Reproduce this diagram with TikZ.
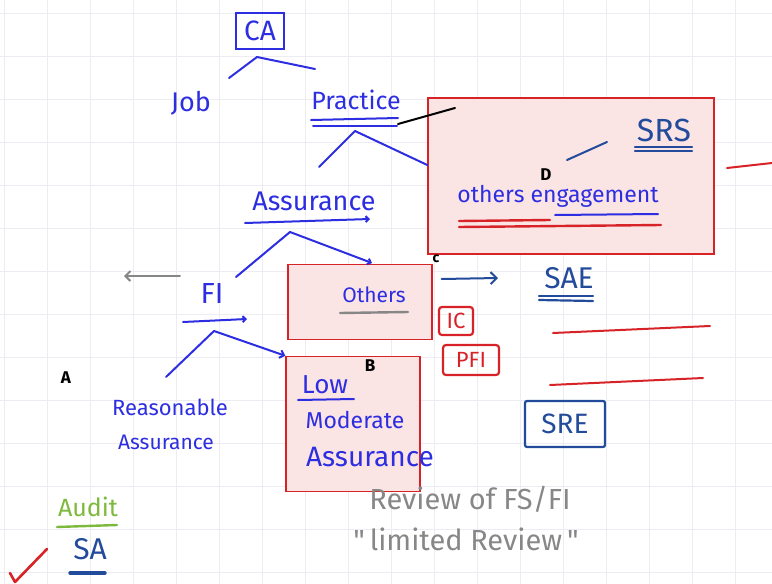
\documentclass[tikz,border=0pt]{standalone}
\usepackage{fontspec}
\setmainfont{Fira Sans}
\usetikzlibrary{arrows.meta, positioning, calc}
\definecolor{penblue}{RGB}{45,45,225}
\definecolor{navyink}{RGB}{35,75,155}
\definecolor{penred}{RGB}{215,35,40}
\definecolor{pinkfill}{RGB}{250,228,228}
\definecolor{pencil}{RGB}{135,135,135}
\definecolor{leaf}{RGB}{125,185,60}
\definecolor{gridgray}{RGB}{236,236,242}

\newcommand{\pt}[1]{\fontsize{#1}{#1}\selectfont}

\begin{document}
\begin{tikzpicture}[x=1pt, y=-1pt,
  hand/.style={font=\pt{22}, inner sep=0pt, text=penblue},
  letter/.style={font=\bfseries\pt{17}, inner sep=0pt, text=black},
  ink/.style={line width=2pt, line cap=round, line join=round},
  redbox/.style={draw=penred, fill=pinkfill, line width=1.4pt, inner sep=0pt},
  tagbox/.style={draw=penred, line width=2.2pt, rounded corners=3pt, text=penred,
    font=\pt{22}, inner sep=0pt},
]
  \useasboundingbox (0,0) rectangle (772,584);

  % squared paper
  \foreach \gx in {4,47,...,772} \draw[gridgray, line width=0.8pt] (\gx,0) -- (\gx,584);
  \foreach \gy in {13,56,...,584} \draw[gridgray, line width=0.8pt] (0,\gy) -- (772,\gy);

  % shaded boxes
  \node[redbox, minimum width=286pt, minimum height=156pt] (boxD) at (571,176) {};
  \node[redbox, minimum width=144pt, minimum height=75pt] (boxOthers) at (360,302) {};
  \node[redbox, minimum width=134pt, minimum height=135pt] (boxB) at (353,424) {};

  % tree of words
  \node[hand, font=\pt{28}, draw=penblue, line width=2.2pt, minimum width=48pt,
    minimum height=36pt] (ca) at (260,31) {CA};
  \node[hand, font=\pt{27}] (job) at (191,103) {Job};
  \node[hand, font=\pt{25}] (practice) at (356,100) {Practice};
  \node[hand, font=\pt{27}] (assurance) at (314,201) {Assurance};
  \node[hand, font=\pt{29}] (fi) at (212,294) {FI};
  \node[hand, font=\pt{21}] (others) at (374,295) {Others};
  \node[hand, font=\pt{23}] (engage) at (558,196) {others engagement};
  \node[hand, text=navyink, font=\pt{32}] (srs) at (664,130) {SRS};
  \node[hand, text=navyink, font=\pt{30}] (sae) at (569,278) {SAE};
  \node[hand, font=\pt{22}] (reason) at (170,407) {Reasonable};
  \node[hand, font=\pt{21}] (reasonB) at (166,442) {Assurance};
  \node[hand, font=\pt{26}] (low) at (325,385) {Low};
  \node[hand, font=\pt{23}] (moderate) at (355,420) {Moderate};
  \node[hand, font=\pt{28}] (assuranceB) at (370,457) {Assurance};

  % letters
  \node[letter] (markD) at (546,175) {D};
  \node[letter, font=\bfseries\pt{14}] (markC) at (436,259) {c};
  \node[letter] (markA) at (66,378) {A};
  \node[letter] (markB) at (370,366) {B};

  % tags
  \node[tagbox, minimum width=34pt, minimum height=28pt] (ic) at (456,321) {IC};
  \node[tagbox, minimum width=56pt, minimum height=30pt] (pfi) at (471,360) {PFI};
  \node[hand, font=\pt{28}, draw=navyink, text=navyink, line width=2.2pt,
    rounded corners=2pt, minimum width=80pt, minimum height=46pt] (sre) at (565,424) {SRE};

  % bottom notes
  \node[hand, font=\pt{25}, text=leaf] (audit) at (88,507) {Audit};
  \node[hand, font=\pt{30}, text=navyink] (sa) at (90,549) {SA};
  \node[hand, font=\pt{29}, text=pencil] (review) at (470,499) {Review of FS/FI};
  \node[hand, font=\pt{29}, text=pencil] (limited) at (466,539)
    {\textquotedbl\,limited Review\,\textquotedbl};

  % branches
  \coordinate (capeak) at (257,57);
  \draw[ink, penblue] (capeak) -- (229,78);
  \draw[ink, penblue] (capeak) -- (315,69);

  \coordinate (practicepeak) at (355,131);
  \draw[ink, penblue] (practicepeak) -- (319,167);
  \draw[ink, penblue] (practicepeak) -- (boxD.west |- 0,165);
  \draw[ink, black] (398,124) -- (455,108);

  \coordinate (assurpeak) at (290,232);
  \draw[ink, penblue] (assurpeak) -- (236,277);
  \draw[ink, penblue, -{Straight Barb[length=3pt]}] (assurpeak) -- (372,263);

  \coordinate (fipeak) at (214,331);
  \draw[ink, penblue] (fipeak) -- (166,377);
  \draw[ink, penblue, -{Straight Barb[length=4pt]}] (fipeak) -- (boxB.north west);

  \draw[ink, pencil, -{Straight Barb[length=5pt]}] (180,276) -- (124,276);
  \draw[ink, navyink, -{Straight Barb[length=6pt]}] (boxOthers.east |- 0,279) ++(9,0) -- (498,278);
  \draw[ink, navyink] (567,160) -- (607,142);

  % underlines
  \draw[ink, penblue] (311,120) -- (398,118);
  \draw[ink, penblue] (313,126) -- (397,126);
  \draw[ink, penblue, -{Straight Barb[length=3pt]}] (245,223) -- (370,219);
  \draw[ink, penblue, -{Straight Barb[length=3pt]}] (183,322) -- (247,319);
  \draw[ink, pencil, line width=2.4pt] (340,313) -- (408,312);
  \draw[ink, penblue] (298,400) -- (354,399);
  \draw[ink, penred, line width=2.4pt] (459,221) -- (550,220);
  \draw[ink, penred, line width=2.4pt] (459,227) -- (661,225);
  \draw[ink, penblue] (555,215) -- (658,214);
  \draw[ink, navyink, line width=2.2pt] (635,147) -- (692,147);
  \draw[ink, navyink, line width=2.2pt] (635,151) -- (692,151);
  \draw[ink, navyink, line width=2.2pt] (539,296) -- (593,296);
  \draw[ink, navyink, line width=2.2pt] (539,300) -- (593,301);
  \draw[ink, leaf, line width=2.4pt] (57,527) -- (117,525);
  \draw[ink, navyink, line width=3.4pt] (70,573) -- (105,573);

  % red strokes
  \draw[ink, penred] (727,168) -- (772,163);
  \draw[ink, penred] (553,333) -- (710,326);
  \draw[ink, penred] (550,385) -- (703,378);
  \draw[ink, penred, line width=2.6pt] (10,573) -- (15,582) -- (47,549);
\end{tikzpicture}
\end{document}
